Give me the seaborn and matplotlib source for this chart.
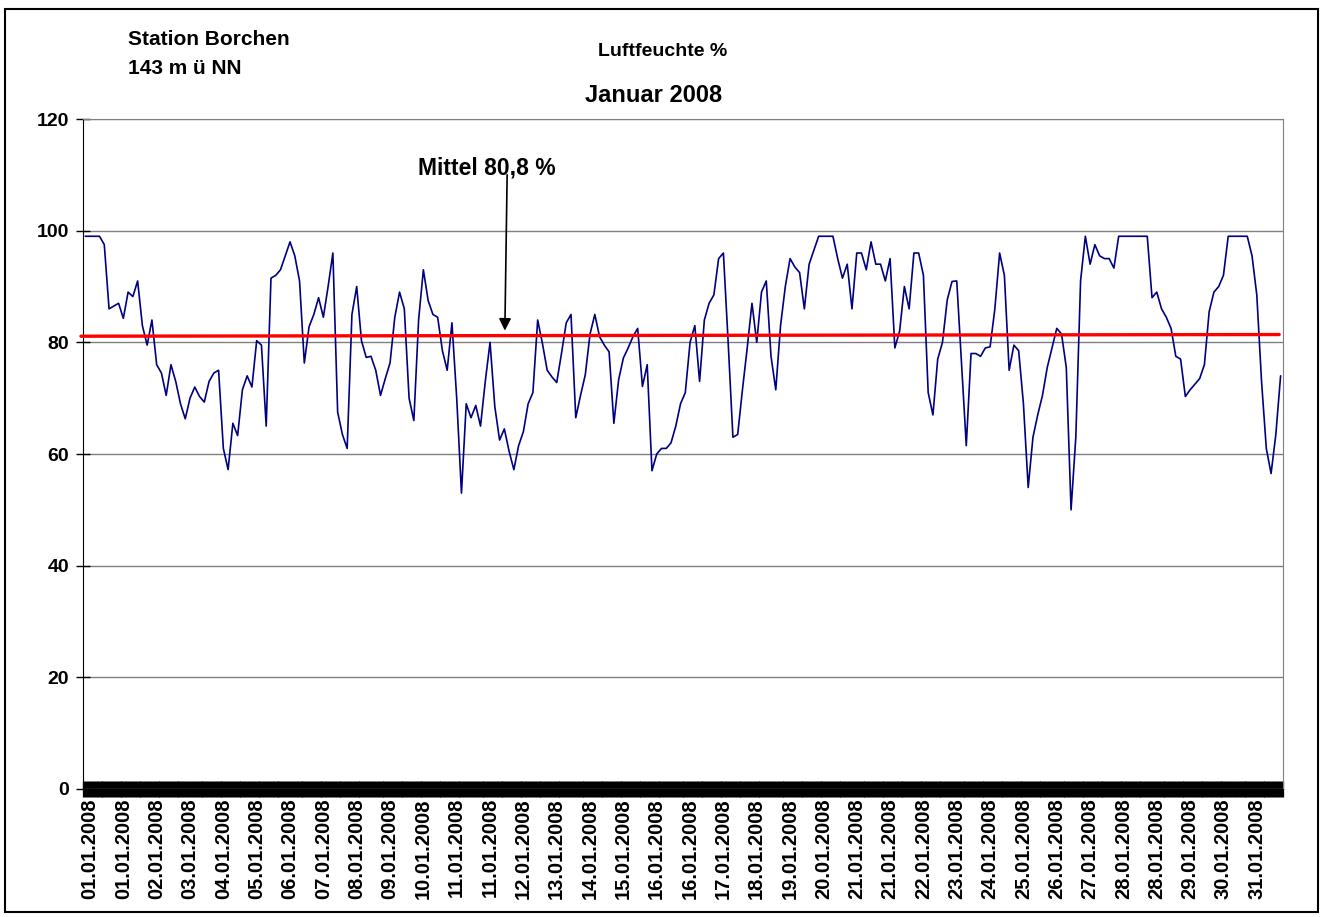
import matplotlib
matplotlib.use("Agg")
import matplotlib.pyplot as plt
import numpy as np
import pandas as pd
import seaborn as sns
from matplotlib.patches import Rectangle

# relative humidity, Station Borchen, January 2008
humidity = [
    99,
    99, 99, 99, 97.5, 86, 86.5, 87, 84.3, 89, 88.2,
    91, 83, 79.5, 84, 76, 74.5, 70.5, 76, 73, 69,
    66.3, 70, 72, 70.3, 69.3, 73, 74.5, 75, 61, 57.2,
    65.5, 63.3, 71.5, 74, 72, 80.3, 79.5, 65, 91.5, 92,
    93, 95.5, 98, 95.5, 91, 76.3, 82.8, 85, 88, 84.5,
    90, 96, 67.5, 63.5, 61, 85, 90, 80.3, 77.3, 77.5,
    75, 70.5, 73.5, 76.3, 84.5, 89, 86, 70, 66, 84,
    93, 87.5, 85, 84.5, 78.5, 75, 83.5, 70, 53, 69,
    66.5, 68.7, 65, 73, 80, 68.5, 62.5, 64.5, 60.5, 57.2,
    61.5, 64, 69, 71, 84, 79.8, 75, 73.8, 72.8, 78,
    83.5, 85, 66.5, 70.5, 74.2, 81.5, 85, 81, 79.5, 78.3,
    65.5, 73.3, 77.2, 79, 81, 82.5, 72.1, 76, 57, 60,
    61, 61, 62, 65, 69, 71, 80, 83, 73, 84,
    87, 88.5, 95, 96, 80, 63, 63.5, 71.5, 79, 87,
    80, 89, 91, 77.5, 71.5, 83, 90, 95, 93.5, 92.5,
    86, 94, 96.5, 99, 99, 99, 99, 95, 91.5, 94,
    86, 96, 96, 93, 98, 94, 94, 91, 95, 79,
    82, 90, 86, 96, 96, 92, 71, 67, 77, 80,
    87.6, 90.9, 91, 76.3, 61.5, 78, 78, 77.5, 79, 79.2,
    86, 96, 92, 75, 79.5, 78.5, 69, 54, 63, 67,
    70.5, 75.5, 79, 82.5, 81.5, 75.5, 50, 63, 91, 99,
    94, 97.5, 95.5, 95, 95, 93.3, 99, 99, 99, 99,
    99, 99, 99, 88, 89, 86, 84.5, 82.5, 77.5, 77,
    70.3, 71.5, 72.5, 73.5, 76, 85.5, 89, 90, 92, 99,
    99, 99, 99, 99, 95.5, 88.5, 73, 61, 56.5, 63.5, 74,
]

date_labels = [
    "01.01.2008", "01.01.2008", "02.01.2008", "03.01.2008", "04.01.2008",
    "05.01.2008", "06.01.2008", "07.01.2008", "08.01.2008", "09.01.2008",
    "10.01.2008", "11.01.2008", "11.01.2008", "12.01.2008", "13.01.2008",
    "14.01.2008", "15.01.2008", "16.01.2008", "16.01.2008", "17.01.2008",
    "18.01.2008", "19.01.2008", "20.01.2008", "21.01.2008", "21.01.2008",
    "22.01.2008", "23.01.2008", "24.01.2008", "25.01.2008", "26.01.2008",
    "27.01.2008", "28.01.2008", "28.01.2008", "29.01.2008", "30.01.2008",
    "31.01.2008",
]

mean_line = [81.1, 81.4]
mean_label = "Mittel 80,8 %"

sns.set_style("white")
plt.rcParams["font.family"] = ["Liberation Sans", "DejaVu Sans"]
plt.rcParams["font.weight"] = "bold"
for key in ["text.color", "xtick.color", "ytick.color", "axes.labelcolor"]:
    plt.rcParams[key] = "black"

df = pd.DataFrame({"step": np.arange(len(humidity)), "rh": humidity})
label_every = 7

fig = plt.figure(figsize=(13.28, 9.17), dpi=100)
ax = fig.add_axes([0.0625, 0.1396, 0.9036, 0.7306])

ax.yaxis.grid(True, color="#808080", lw=1.0)
ax.set_axisbelow(True)

sns.lineplot(data=df, x="step", y="rh", color="#000080", lw=1.2, ax=ax)

# mean line, slightly sticking out to the left like the original
ax.plot([-0.9, len(humidity) - 1.3], mean_line, color="#ff0000", lw=2.4,
        clip_on=False, zorder=4)

ax.annotate("", xy=(88.1, 81.6), xytext=(88.6, 110.5),
            arrowprops=dict(arrowstyle="-|>", color="black", lw=1.2,
                            mutation_scale=18))
ax.text(84.4, 111.2, mean_label, ha="center", va="center",
        fontsize=16.5, fontweight="bold")

ax.set_xlim(-0.47, len(humidity) - 0.5)
ax.set_ylim(0, 120)
ax.set_yticks(range(0, 121, 20))
ax.set_xticks(np.arange(len(date_labels)) * label_every + 1)
ax.set_xticklabels(date_labels, rotation=90, fontsize=14.5, fontweight="bold")
ax.set_xticks(np.arange(len(humidity)), minor=True)
ax.tick_params(axis="x", which="both", bottom=True, direction="inout",
               length=11, width=3.8, color="black", pad=1)
ax.tick_params(axis="y", left=True, direction="inout", length=10, width=1,
               color="black", labelsize=14, pad=5)
for t in ax.get_yticklabels():
    t.set_fontweight("bold")
ax.set_xlabel("")
ax.set_ylabel("")

ax.spines["left"].set_color("black")
ax.spines["bottom"].set_color("black")
ax.spines["right"].set_color("#808080")
ax.spines["top"].set_color("#808080")

fig.text(0.0964, 0.9564, "Station Borchen", fontsize=15, fontweight="bold",
         va="center", ha="left")
fig.text(0.0964, 0.9258, "143 m ü NN", fontsize=15, fontweight="bold",
         va="center", ha="left")
fig.text(0.4992, 0.9433, "Luftfeuchte %", fontsize=14, fontweight="bold",
         va="center", ha="center")
fig.text(0.4925, 0.8964, "Januar 2008", fontsize=17, fontweight="bold",
         va="center", ha="center")

fig.patches.append(Rectangle((0.0038, 0.0055), 0.9887, 0.9847,
                             transform=fig.transFigure, fill=False,
                             edgecolor="black", lw=1.5))

fig.savefig("out.png", dpi=100)
